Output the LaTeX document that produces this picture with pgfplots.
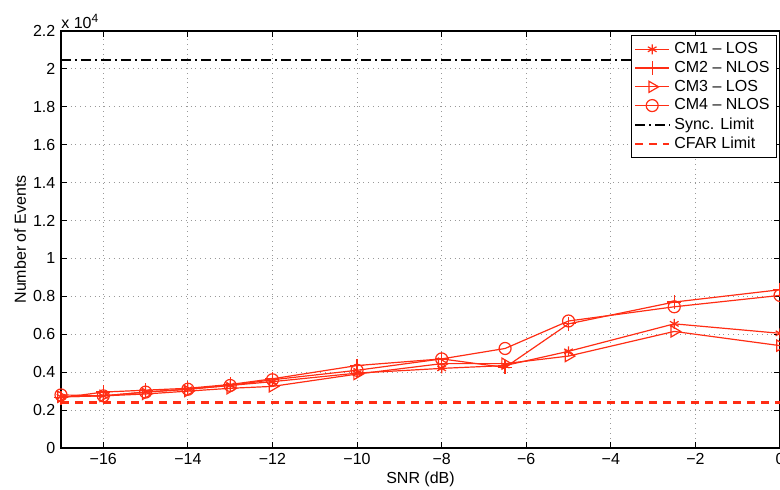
\documentclass[border=0pt]{standalone}
\usepackage{pgfplots}
\pgfplotsset{compat=1.18}
\usepackage{fontspec}
\setmainfont{Liberation Sans}
\definecolor{cmred}{RGB}{255,45,20}
\begin{document}
\fontsize{8}{9.5}\selectfont
\begin{tikzpicture}
\begin{axis}[
  scale only axis, width=359.5pt, height=208.5pt,
  xmin=-17, xmax=0, ymin=0, ymax=22000,
  xtick={-16,-14,-12,-10,-8,-6,-4,-2,0},
  xticklabels={−16,−14,−12,−10,−8,−6,−4,−2,0},
  ytick={0,2000,4000,6000,8000,10000,12000,14000,16000,18000,20000,22000},
  scaled y ticks=base 10:-4,
  ytick scale label code/.code={x 10\textsuperscript{4}},
  every y tick scale label/.style={at={(0,1)}, anchor=south west, inner sep=1pt, xshift=-1pt},
  yticklabel style={/pgf/number format/fixed, /pgf/number format/precision=1},
  /pgf/number format/assume math mode=true,
  tick align=inside, major tick length=3pt,
  grid=major, grid style={dotted, gray!80, line width=0.5pt},
  axis line style={line width=0.75pt},
  every tick/.style={black, line width=0.5pt},
  xlabel={SNR (dB)}, ylabel={Number of Events},
  xlabel style={yshift=2pt}, ylabel style={yshift=-2pt},
  legend style={at={(1,1)}, anchor=north east, xshift=-1.5pt, yshift=-2pt,
    draw=black, line width=0.5pt, font=\fontsize{8}{9.5}\selectfont, cells={anchor=west}, row sep=-1.4pt,
    inner sep=1.5pt},
  legend cell align=left,
]
\coordinate (sw) at (rel axis cs:0,0);
\coordinate (ne) at (rel axis cs:1,1);
\addplot[cmred, line width=0.6pt, mark=asterisk, mark size=2.5pt] coordinates {
(-17,2700) (-16,2750) (-15,2950) (-14,3100) (-13,3300) (-12,3500) (-10,3950) (-8,4200) (-6.5,4350) (-5,5100) (-2.5,6550) (0,6050)};
\addlegendentry{CM1 – LOS}
\addplot[cmred, line width=0.6pt, mark=+, mark size=3.5pt] coordinates {
(-17,2650) (-16,2950) (-15,3050) (-14,3150) (-13,3350) (-12,3650) (-10,4350) (-8,4700) (-6.5,4250) (-5,6550) (-2.5,7700) (0,8350)};
\addlegendentry{CM2 – NLOS}
\addplot[cmred, line width=0.6pt, mark=triangle, mark size=3.2pt, mark options={rotate=-90}] coordinates {
(-17,2700) (-16,2750) (-15,2850) (-14,3000) (-13,3150) (-12,3250) (-10,3900) (-8,4450) (-6.5,4450) (-5,4850) (-2.5,6150) (0,5400)};
\addlegendentry{CM3 – LOS}
\addplot[cmred, line width=0.6pt, mark=o, mark size=3pt] coordinates {
(-17,2800) (-16,2750) (-15,2950) (-14,3100) (-13,3300) (-12,3600) (-10,4100) (-8,4700) (-6.5,5250) (-5,6700) (-2.5,7450) (0,8050)};
\addlegendentry{CM4 – NLOS}
\addplot[black, line width=1pt, dash pattern=on 5pt off 2pt on 1pt off 2pt] coordinates {(-17,20480) (0,20480)};
\addlegendentry{Sync. Limit}
\addplot[cmred, line width=1.1pt, dash pattern=on 4pt off 3pt] coordinates {(-17,2400) (0,2400)};
\addlegendentry{CFAR Limit}
\end{axis}
\pgfresetboundingbox
\path[use as bounding box] ([xshift=-30.5pt,yshift=-21pt]sw) rectangle ([yshift=15.5pt]ne);
\end{tikzpicture}
\end{document}
